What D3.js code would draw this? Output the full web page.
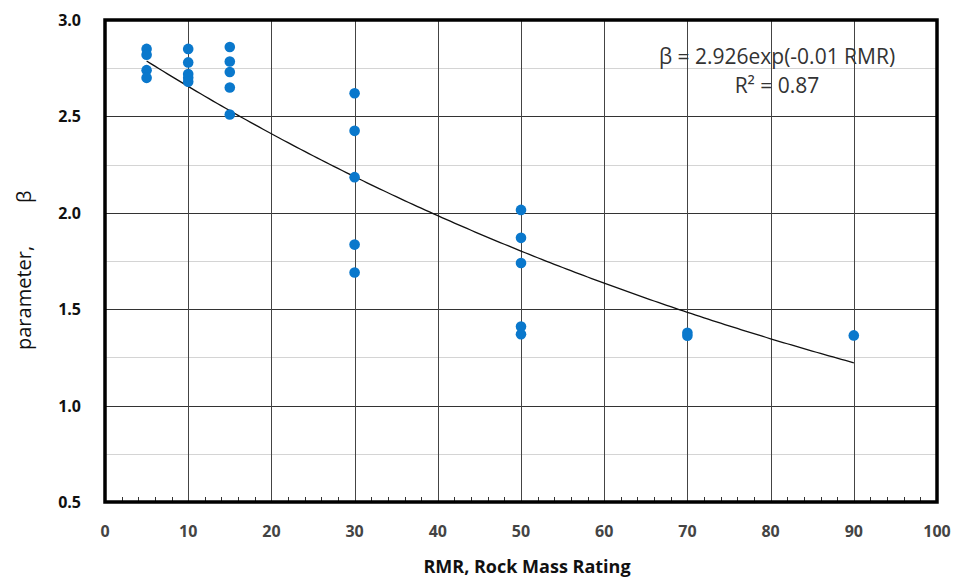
<!DOCTYPE html>
<html>
<head>
<meta charset="utf-8">
<script src="https://cdn.jsdelivr.net/npm/d3@7"></script>
<style>
  body { margin: 0; background: #fff; }
  svg { display: block; }
  text { font-family: "Open Sans", "Liberation Sans", sans-serif; }
</style>
</head>
<body>
<svg id="chart" width="958" height="578"></svg>
<script>
// measured points, grouped by RMR value
var rmr5  = [2.85, 2.82, 2.74, 2.70];
var rmr10 = [2.85, 2.78, 2.72, 2.70, 2.68];
var rmr15 = [2.86, 2.785, 2.73, 2.65, 2.51];
var rmr30 = [2.62, 2.425, 2.185, 1.835, 1.69];
var rmr50 = [2.015, 1.87, 1.74, 1.41, 1.37];
var rmr70 = [1.378, 1.362];
var rmr90 = [1.364];
var rmrValues = [5, 10, 15, 30, 50, 70, 90];
var betaGroups = [rmr5, rmr10, rmr15, rmr30, rmr50, rmr70, rmr90];

// fitted curve  beta = a * exp(-b * RMR)
var fitA = 2.926;
var fitB = 0.0097;
var fitRange = [5, 90];

var xTicks = [0, 10, 20, 30, 40, 50, 60, 70, 80, 90, 100];
var yTicks = [0.5, 1.0, 1.5, 2.0, 2.5, 3.0];

var plotLeft = 105, plotRight = 937, plotTop = 20, plotBottom = 502;
var svg = d3.select('#chart');

var x = d3.scaleLinear().domain([0, 100]).range([plotLeft, plotRight]);
var y = d3.scaleLinear().domain([0.5, 3.0]).range([plotBottom, plotTop]);

var points = [];
for (let i = 0; i < rmrValues.length; i++) {
    for (let j = 0; j < betaGroups[i].length; j++) {
        points.push({ rmr: rmrValues[i], beta: betaGroups[i][j] });
    }
}

function px(v) { return Math.round(v) + 0.5 }

// minor horizontal grid
svg.append('g')
    .selectAll('line')
    .data(d3.range(0.75, 3.0, 0.5))
    .enter().append('line')
    .attr('x1', plotLeft).attr('x2', plotRight)
    .attr('y1', function (d) { return px(y(d)) })
    .attr('y2', function (d) { return px(y(d)) })
    .attr('stroke', '#d4d4d4')
    .attr('stroke-width', 1)

// major horizontal grid
svg.append('g')
    .selectAll('line')
    .data(yTicks.slice(1, -1))
    .enter().append('line')
    .attr('x1', plotLeft).attr('x2', plotRight)
    .attr('y1', function (d) { return px(y(d)) })
    .attr('y2', function (d) { return px(y(d)) })
    .attr('stroke', '#333')
    .attr('stroke-width', 1)

// vertical grid
svg.append('g')
    .selectAll('line')
    .data(xTicks.slice(1, -1))
    .enter().append('line')
    .attr('x1', function (d) { return px(x(d)) })
    .attr('x2', function (d) { return px(x(d)) })
    .attr('y1', plotTop).attr('y2', plotBottom)
    .attr('stroke', '#444')
    .attr('stroke-width', 1)

// minor ticks on the bottom axis, pointing inward
svg.append('g')
    .selectAll('line')
    .data(d3.range(2, 100, 2).filter(function (d) { return d % 10 !== 0 }))
    .enter().append('line')
    .attr('x1', function (d) { return px(x(d)) })
    .attr('x2', function (d) { return px(x(d)) })
    .attr('y1', plotBottom).attr('y2', plotBottom - 5)
    .attr('stroke', '#333')
    .attr('stroke-width', 1)

// trend line
var curve = d3.range(fitRange[0], fitRange[1] + 0.01, 0.5).map(function (r) {
    return [x(r), y(fitA * Math.exp(-fitB * r))];
});
svg.append('path')
    .attr('d', d3.line()(curve))
    .attr('fill', 'none')
    .attr('stroke', '#111')
    .attr('stroke-width', 1.3)

// points
svg.append('g')
    .selectAll('circle')
    .data(points)
    .enter().append('circle')
    .attr('cx', function (d) { return x(d.rmr) })
    .attr('cy', function (d) { return y(d.beta) })
    .attr('r', 5.3)
    .attr('fill', '#0a78cc')

// frame
svg.append('rect')
    .attr('x', plotLeft).attr('y', plotTop)
    .attr('width', plotRight - plotLeft).attr('height', plotBottom - plotTop)
    .attr('fill', 'none')
    .attr('stroke', '#000')
    .attr('stroke-width', 3.5)

// tick labels
svg.append('g')
    .selectAll('text')
    .data(yTicks)
    .enter().append('text')
    .attr('x', 81)
    .attr('y', function (d) { return y(d) + 6 })
    .attr('text-anchor', 'end')
    .attr('font-size', 16)
    .attr('font-weight', 'bold')
    .attr('fill', '#111')
    .text(function (d) { return d3.format('.1f')(d) })

svg.append('g')
    .selectAll('text')
    .data(xTicks)
    .enter().append('text')
    .attr('x', function (d) { return x(d) })
    .attr('y', 537)
    .attr('text-anchor', 'middle')
    .attr('font-size', 16)
    .attr('font-weight', 'bold')
    .attr('fill', '#444')
    .text(function (d) { return d })

// axis titles
svg.append('text')
    .attr('x', 527).attr('y', 573)
    .attr('text-anchor', 'middle')
    .attr('font-size', 18)
    .attr('font-weight', 'bold')
    .attr('fill', '#111')
    .text('RMR, Rock Mass Rating')

svg.append('text')
    .attr('transform', 'translate(31,350) rotate(-90)')
    .attr('text-anchor', 'start')
    .attr('font-size', 20)
    .attr('fill', '#111')
    .text('parameter,')

svg.append('text')
    .attr('transform', 'translate(31,203) rotate(-90)')
    .attr('text-anchor', 'start')
    .attr('font-size', 20)
    .attr('fill', '#111')
    .text('β')

// equation
svg.append('text')
    .attr('x', 777).attr('y', 64)
    .attr('text-anchor', 'middle')
    .attr('font-size', 21)
    .attr('fill', '#333')
    .text('β = 2.926exp(-0.01 RMR)')

svg.append('text')
    .attr('x', 777).attr('y', 93)
    .attr('text-anchor', 'middle')
    .attr('font-size', 21)
    .attr('fill', '#333')
    .text('R² = 0.87')
</script>
</body>
</html>
